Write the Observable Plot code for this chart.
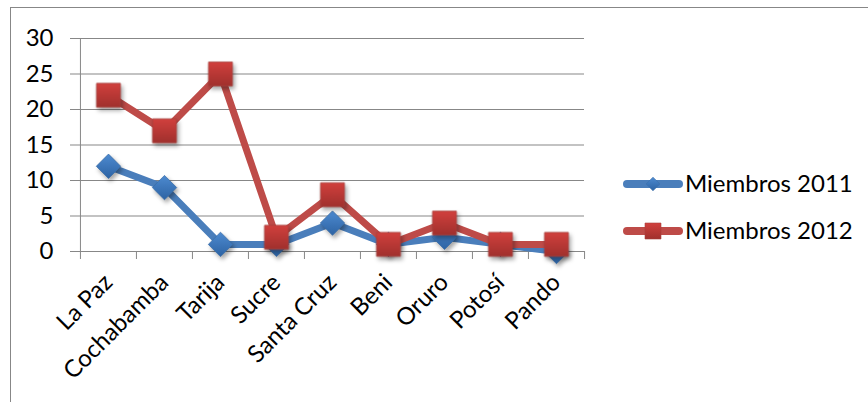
<!DOCTYPE html>
<html><head><meta charset="utf-8">
<script src="https://cdn.jsdelivr.net/npm/d3@7"></script>
<script src="https://cdn.jsdelivr.net/npm/@observablehq/plot@0.6"></script>
<style>
html,body{margin:0;padding:0;background:#fff;}
#chart{position:relative;width:868px;height:402px;overflow:hidden;}
#chart svg{display:block;}
</style></head><body><div id="chart"></div>
<script>
const categories = ["La Paz","Cochabamba","Tarija","Sucre","Santa Cruz","Beni","Oruro","Potosí","Pando"];
const miembros2011 = [12, 9, 1, 1, 4, 1, 2, 1, 0];
const miembros2012 = [22, 17, 25, 2, 8, 1, 4, 1, 1];
const yTicks = [0, 5, 10, 15, 20, 25, 30];
const seriesNames = ["Miembros 2011", "Miembros 2012"];

const W = 868, H = 402, mL = 79, mR = 284, mT = 38, mB = 151;
const step = (W - mL - mR) / categories.length;
const gray = "#878787";
const blue = "#4a7ebb", red = "#be4b48";

const d2011 = categories.map((c, i) => ({cat: c, v: miembros2011[i]}));
const d2012 = categories.map((c, i) => ({cat: c, v: miembros2012[i]}));

const shadow = "drop-shadow(2px 3px 2px rgba(0,0,0,0.35))";

const plot = Plot.plot({
  width: W, height: H,
  marginLeft: mL, marginRight: mR, marginTop: mT, marginBottom: mB,
  style: {fontFamily: "Lato, 'Open Sans', sans-serif", fontSize: "24px", color: "#000", background: "transparent"},
  x: {type: "point", domain: categories, padding: 0.5},
  y: {domain: [0, 30]},
  marks: [
    Plot.gridY(yTicks, {stroke: gray, strokeOpacity: 1, strokeWidth: 1}),
    Plot.axisY(yTicks, {tickSize: 9, tickPadding: 17, stroke: gray, strokeOpacity: 1, fill: "#000", label: null, tickFormat: d => String(d)}),
    Plot.ruleX([categories[0]], {y1: 0, y2: 30, dx: -step / 2, stroke: gray}),
    Plot.ruleX(categories, {y1: 0, y2: 0, insetBottom: -8, dx: -step / 2, stroke: gray}),
    Plot.ruleX([categories[categories.length - 1]], {y1: 0, y2: 0, insetBottom: -8, dx: step / 2, stroke: gray}),
    Plot.axisX({tickSize: 0, tickPadding: 27, tickRotate: -45, label: null, fill: "#000"}),
    Plot.line(d2011, {x: "cat", y: "v", stroke: blue, strokeWidth: 7, strokeLinejoin: "round"}),
    Plot.dot(d2011, {x: "cat", y: "v", symbol: "diamond2", r: 11, fill: "url(#gBlue)", stroke: "#3b6eaa", strokeWidth: 0.8, imageFilter: shadow}),
    Plot.line(d2012, {x: "cat", y: "v", stroke: red, strokeWidth: 7, strokeLinejoin: "round"}),
    Plot.dot(d2012, {x: "cat", y: "v", symbol: "square", r: 13.5, fill: "url(#gRed)", stroke: "#a8413e", strokeWidth: 0.8, imageFilter: shadow})
  ]
});

const svg = d3.select(plot);
const defs = svg.insert("defs", ":first-child");
function grad(id, c1, c2) {
  const g = defs.append("linearGradient").attr("id", id).attr("x1", 0).attr("y1", 0).attr("x2", 0).attr("y2", 1);
  g.append("stop").attr("offset", "0%").attr("stop-color", c1);
  g.append("stop").attr("offset", "100%").attr("stop-color", c2);
}
grad("gBlue", "#4d8ad0", "#2d63a3");
grad("gRed", "#d1403d", "#a0302d");

// outer chart frame
svg.insert("rect", "defs + *").attr("x", 10.5).attr("y", 7.5).attr("width", 900).attr("height", 500)
  .attr("fill", "none").attr("stroke", gray);

// legend
const legend = svg.append("g").attr("font-family", "Lato, 'Open Sans', sans-serif").attr("font-size", 24).attr("text-anchor", "start");
const legendY = [184, 231];
const colors = [blue, red];
seriesNames.forEach((name, i) => {
  const g = legend.append("g").attr("transform", `translate(0,${legendY[i]})`);
  g.append("line").attr("x1", 627).attr("x2", 679).attr("y1", 0).attr("y2", 0)
    .attr("stroke", colors[i]).attr("stroke-width", 8).attr("stroke-linecap", "round");
  if (i === 0) {
    g.append("path").attr("d", d3.symbol(d3.symbolDiamond2, 120)()).attr("transform", "translate(653,0)")
      .attr("fill", "url(#gBlue)").attr("stroke", "#3b6eaa").attr("stroke-width", 0.6);
  } else {
    g.append("path").attr("d", d3.symbol(d3.symbolSquare, 256)()).attr("transform", "translate(653,0)")
      .attr("fill", "url(#gRed)").attr("stroke", "#a8413e").attr("stroke-width", 0.6);
  }
  g.append("text").attr("x", 685).attr("y", 0).attr("dy", "0.35em").attr("text-anchor", "start").attr("fill", "#000").text(name);
});

document.getElementById("chart").appendChild(plot);
</script>
</body></html>
